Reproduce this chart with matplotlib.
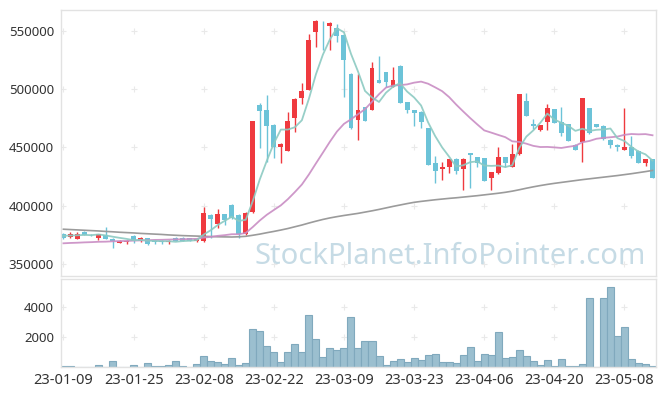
import numpy as np
import matplotlib
matplotlib.use("Agg")
import matplotlib.pyplot as plt

# prix en milliers de won
opens = [375.5, 373, 371.5, 377.5, 375, 372.5, 375, 371.5, 368, 368.5,
         374, 369.5, 372, 370, 370, 368.5, 372.5, 372.5, 372, 369.5,
         370, 392, 384.5, 392.5, 400.5, 392, 376, 394.3, 486, 482,
         469.3, 450.4, 447, 475.5, 492.7, 499.3, 549.4, 558, 554.6, 552.3,
         546.6, 512.8, 473.8, 484.7, 482.5, 507.7, 514.8, 502.2, 519.9, 488.7,
         482.1, 480.7, 466.4, 436.4, 431.7, 433.4, 440, 431.1, 444.9, 441.5,
         440.6, 423.5, 427.8, 441.5, 433.4, 444.1, 489.9, 470.1, 465, 472.1,
         483, 471.6, 470.1, 452.1, 454.9, 483.6, 470.1, 468.4, 456.4, 452.1,
         447.8, 450.6, 447.2, 436.9, 439.8]
closes = [372.5, 375.5, 375.5, 375, 374.5, 375.4, 371.5, 370, 370, 370,
          370, 372.5, 367, 368.5, 369, 370, 370, 370, 370, 371.5,
          394, 388.5, 392.5, 388, 389, 376, 393.7, 472.7, 481.3, 468.7,
          450.4, 453.2, 472.7, 491.6, 498.5, 542.3, 558.6, 557.5, 556.9, 546,
          525.4, 466.4, 481.9, 473, 518, 505.6, 506.4, 507.7, 488.4, 482.1,
          479.8, 472.1, 434.9, 430, 433.2, 439.8, 430, 440, 443.5, 436.9,
          421.4, 428.7, 441.5, 436.9, 444.3, 495.9, 477.3, 468.7, 469.3, 483.6,
          471.3, 462.7, 455.8, 447.8, 492.2, 462.1, 467.8, 457, 451.8, 450.6,
          450.1, 442.6, 436.9, 439.8, 424]
highs = [376.5, 377, 377.5, 378, 376, 376, 382, 372, 370.5, 370.5,
         374.5, 373, 372.5, 370.5, 370.5, 370.5, 373, 373, 372.5, 372,
         399, 392.5, 397, 393, 401, 392.5, 394.5, 473, 488.2, 495,
         469.8, 453.8, 480.2, 492, 505.3, 547.2, 559, 558.5, 557.5, 555.8,
         547, 513.6, 513.3, 485, 523.7, 528.3, 515, 519.3, 520.5, 489,
         482.5, 481, 466.8, 442.6, 437.7, 440.2, 440.5, 440.5, 445.3, 442,
         441, 429, 450.1, 442, 452.9, 496.2, 497, 474.2, 469.6, 487.3,
         483.4, 484.5, 470.5, 452.5, 492.5, 484, 470.5, 468.8, 456.8, 452.5,
         483.6, 459.8, 447.5, 440.2, 440.2]
lows = [371.5, 372, 371, 374.5, 374, 370.5, 371, 363.5, 367.5, 367,
        368, 369, 366.5, 367, 367, 367, 369.5, 369.5, 369.5, 368.5,
        369, 372.5, 381, 383, 388.5, 372.5, 374.8, 394, 449.2, 437.8,
        440.6, 436.4, 446.5, 463, 487, 499, 536.5, 534, 534, 540.8,
        493.6, 466, 456.1, 472.5, 482, 505, 501.9, 502, 488, 479.3,
        468.4, 466.4, 434.5, 419.7, 422, 427.8, 427, 413.4, 414.9, 433.4,
        421, 413.4, 427.5, 432.9, 433, 443.8, 477, 465.6, 464.4, 465,
        471, 459.8, 455.5, 447.5, 437.7, 461.8, 467.5, 456.7, 449.2, 447.2,
        447.5, 440.6, 436.5, 434, 423.7]

ma5 = [374.0, 374.3, 374.5, 374.8, 374.6, 375.2, 374.4, 373.3, 372.3, 371.4,
       370.3, 370.5, 369.9, 369.6, 369.4, 369.4, 368.9, 369.5, 369.8, 370.3,
       375.1, 378.8, 383.3, 386.9, 390.4, 386.8, 387.8, 403.9, 422.5, 438.5,
       453.4, 465.3, 465.3, 467.3, 473.3, 491.7, 512.7, 529.7, 542.8, 552.3,
       548.9, 530.4, 515.3, 498.5, 492.9, 489.0, 497.0, 502.1, 505.2, 498.0,
       492.9, 486.0, 471.5, 459.8, 450.0, 442.0, 433.6, 434.6, 437.3, 438.0,
       434.4, 434.1, 434.4, 433.1, 434.6, 449.5, 459.2, 464.6, 471.1, 479.0,
       474.0, 471.1, 468.5, 464.2, 466.0, 464.1, 465.1, 465.4, 466.2, 457.9,
       455.5, 450.4, 446.4, 444.0, 438.7]
ma20 = [367.6, 367.9, 368.1, 368.4, 368.6, 368.9, 369.0, 369.3, 369.5, 369.6,
        369.9, 370.1, 370.2, 370.5, 370.6, 370.8, 371.0, 371.1, 371.3, 371.4,
        372.5, 373.1, 374.0, 374.6, 375.4, 375.4, 376.5, 381.6, 387.2, 392.1,
        396.2, 400.2, 405.5, 411.6, 418.1, 426.7, 436.2, 445.5, 454.9, 463.6,
        470.2, 474.1, 478.5, 482.8, 489.2, 495.7, 501.4, 503.1, 503.5, 504.1,
        505.6, 506.5, 504.7, 501.6, 498.3, 493.2, 486.8, 480.9, 475.2, 469.8,
        464.6, 462.7, 460.7, 458.8, 455.2, 454.7, 453.2, 451.3, 450.3, 450.4,
        450.0, 449.5, 450.5, 451.4, 454.4, 455.5, 457.4, 458.2, 458.7, 459.3,
        460.8, 461.5, 461.2, 461.4, 460.4]
ma60 = [379.7, 379.4, 379.1, 378.8, 378.5, 378.2, 377.8, 377.5, 377.1, 376.8,
        376.5, 376.1, 375.8, 375.5, 375.2, 374.8, 374.5, 374.2, 374.0, 373.8,
        373.6, 373.4, 373.2, 373.1, 373.0, 373.2, 373.6, 374.5, 375.5, 376.7,
        377.8, 379.0, 380.3, 381.8, 383.3, 385.0, 386.6, 388.1, 389.4, 390.5,
        391.5, 392.4, 393.3, 394.4, 395.5, 396.7, 398.0, 399.3, 400.5, 401.7,
        402.8, 403.6, 404.3, 405.0, 405.6, 406.2, 406.7, 407.3, 407.9, 408.5,
        409.2, 409.9, 410.6, 411.4, 412.4, 413.6, 414.9, 416.1, 417.2, 418.2,
        419.1, 419.9, 420.7, 421.5, 422.3, 423.0, 423.7, 424.4, 425.1, 425.8,
        426.6, 427.4, 428.3, 429.2, 430.2]

volumes = [80, 80, 0, 0, 0, 150, 0, 420, 0, 0,
           150, 0, 290, 90, 90, 150, 420, 90, 0, 220,
           750, 420, 350, 220, 610, 150, 290, 2530, 2400, 1410,
           1010, 350, 1010, 1540, 1010, 3450, 1870, 680, 1270, 1140,
           1270, 3320, 1270, 1740, 1740, 750, 150, 420, 550, 350,
           610, 480, 810, 880, 350, 350, 290, 810, 1340, 420,
           880, 810, 2330, 610, 680, 1140, 750, 420, 150, 480,
           90, 550, 90, 90, 220, 4620, 0, 4620, 5360, 2070,
           2660, 550, 290, 220, 90]

tick_pos = [0, 10, 20, 30, 40, 50, 60, 70, 80]
tick_labels = ['23-01-09', '23-01-25', '23-02-08', '23-02-22', '23-03-09',
               '23-03-23', '23-04-06', '23-04-20', '23-05-08']
price_ticks = [350000, 400000, 450000, 500000, 550000]
vol_ticks = [2000, 4000]

o = np.array(opens) * 1000
c = np.array(closes) * 1000
h = np.array(highs) * 1000
l = np.array(lows) * 1000
x = np.arange(len(o))

up_col = '#ef3a3f'
down_col = '#6cc3d8'
cols = [up_col if cc >= oo else down_col for oo, cc in zip(o, c)]

plt.rcParams['font.family'] = ['Noto Sans', 'DejaVu Sans']

fig = plt.figure(figsize=(6.65, 3.96), dpi=100)
ax = fig.add_axes([0.0917, 0.303, 0.8948, 0.6717])
axv = fig.add_axes([0.0917, 0.0732, 0.8948, 0.2223])

# grille en petites croix
gx, gy = np.meshgrid(tick_pos, price_ticks)
ax.scatter(gx.ravel(), gy.ravel(), marker='+', s=20, color='#e9e9e9', lw=0.8, zorder=0)
gx, gy = np.meshgrid(tick_pos, vol_ticks)
axv.scatter(gx.ravel(), gy.ravel(), marker='+', s=20, color='#e9e9e9', lw=0.8, zorder=0)

ax.text(0.654, 0.072, 'StockPlanet.InfoPointer.com', transform=ax.transAxes,
        ha='center', va='center', fontsize=21, color='#c6dbe5', zorder=1)

# bougies
ax.vlines(x, l, h, colors=cols, lw=1, zorder=2)
body = np.maximum(np.abs(c - o), 600)
ax.bar(x, body, bottom=np.minimum(o, c), width=0.7, color=cols, zorder=2)

ax.plot(x, np.array(ma60) * 1000, color='#9b9b9b', lw=1.2, zorder=3)
ax.plot(x, np.array(ma20) * 1000, color='#c98dc4', lw=1.3, alpha=0.9, zorder=3)
ax.plot(x, np.array(ma5) * 1000, color='#8ccac2', lw=1.3, alpha=0.9, zorder=3)

ax.set_xlim(-0.35, 84.5)
ax.set_ylim(339500, 568000)
ax.set_yticks(price_ticks)
ax.set_yticklabels([str(v) for v in price_ticks])
ax.set_xticks([])

# volume
axv.bar(x, volumes, width=1.0, color='#9bbfcf', edgecolor='#80a9bd', lw=0.8, zorder=2)
axv.set_xlim(-0.35, 84.5)
axv.set_ylim(0, 5870)
axv.set_yticks(vol_ticks)
axv.set_yticklabels([str(v) for v in vol_ticks])
axv.set_xticks(tick_pos)
axv.set_xticklabels(tick_labels)

for a in (ax, axv):
    a.tick_params(length=0, labelsize=9.5, colors='#333333', pad=5)
    for s in a.spines.values():
        s.set_color('#e2e2e2')
        s.set_linewidth(1)
axv.tick_params(axis='x', labelsize=10.5, pad=4)

fig.savefig('out.png', dpi=100)
